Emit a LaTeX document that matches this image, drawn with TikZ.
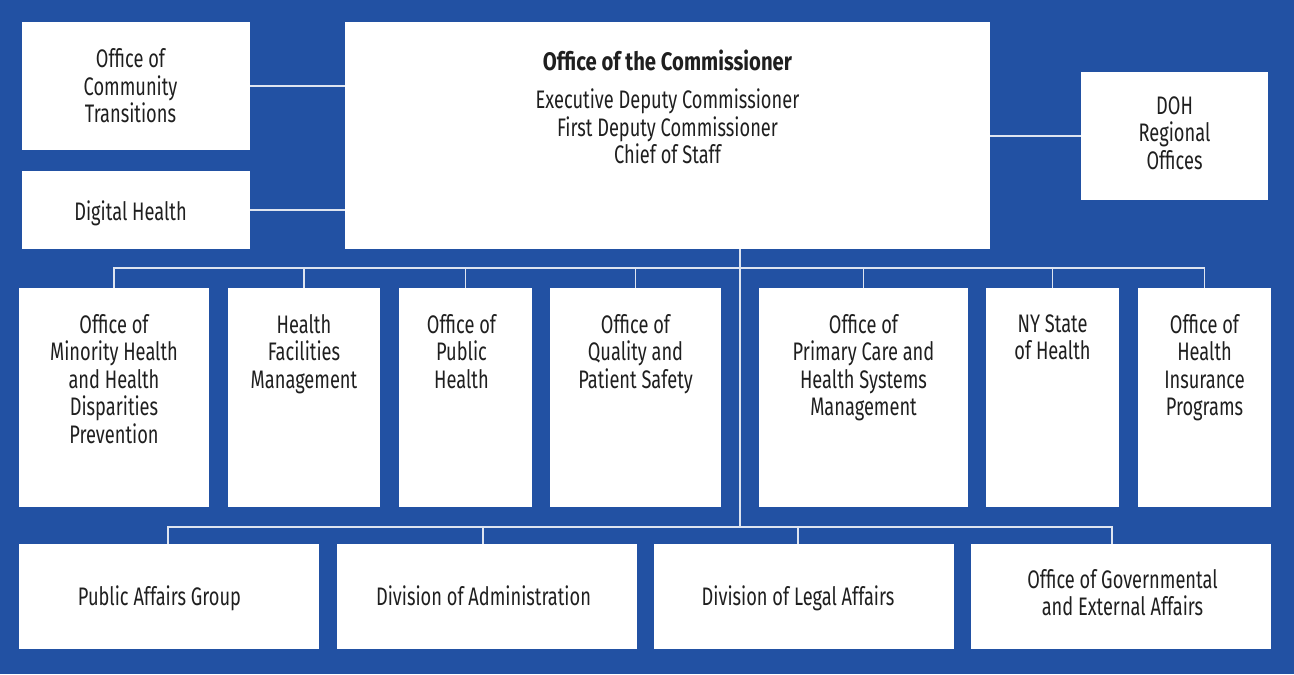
\documentclass[tikz,border=0pt]{standalone}
\usepackage{fontspec}
\setmainfont{Fira Sans}[FakeStretch=0.72, BoldFeatures={FakeStretch=0.8}]
\definecolor{dohblue}{RGB}{34,81,163}
\definecolor{wirecol}{RGB}{222,228,240}
\newcommand{\orgfont}{\fontsize{19}{20.6}\selectfont}
\begin{document}
\begin{tikzpicture}[x=0.75pt,y=-0.75pt,
  box/.style 2 args={fill=white, minimum width=#1*0.75pt, minimum height=#2*0.75pt,
    inner sep=0pt, outer sep=0pt},
  lbl/.style={inner sep=0pt, align=center, text=black!88, font=\orgfont},
  % label centred in its box, moved by (dx,dy) pixels
  midlbl/.style 2 args={lbl, anchor=center, xshift=#1*0.75pt, yshift=-#2*0.75pt},
  % label hung from the top edge of its box
  toplbl/.style 2 args={lbl, anchor=north, xshift=#1*0.75pt, yshift=-#2*0.75pt},
  oneline/.style={text height=13.5pt, text depth=0pt},
  wire/.style={draw=wirecol, line width=0.9pt}]
  % background
  \fill[dohblue] (0,0) rectangle (1294,674);
  \useasboundingbox (0,0) rectangle (1294,674);

  % top row
  \node[box={228}{128}, label={[midlbl={-5.5}{0}]center:{Office of\\Community\\Transitions}}] (oct) at (136,86) {};
  \node[box={228}{78}, label={[midlbl={-5.5}{1}, oneline]center:{Digital Health}}] (dh) at (136,210) {};
  \node[box={645}{227}, label={[toplbl={0}{28}]north:{\textbf{Office of the Commissioner}\\[8pt]
    Executive Deputy Commissioner\\First Deputy Commissioner\\Chief of Staff}}]
    (comm) at (667.5,135.5) {};
  \node[box={187}{128}, label={[midlbl={0}{-3}]center:{DOH\\Regional\\Offices}}] (doh) at (1174.5,136) {};

  % middle row
  \node[box={190}{219}, label={[toplbl={0}{26}]north:{Office of\\Minority Health\\and Health\\Disparities\\Prevention}}] (m1) at (114,397.5) {};
  \node[box={152}{219}, label={[toplbl={0}{26}]north:{Health\\Facilities\\Management}}] (m2) at (304,397.5) {};
  \node[box={133}{219}, label={[toplbl={-4}{26}]north:{Office of\\Public\\Health}}] (m3) at (465.5,397.5) {};
  \node[box={171}{219}, label={[toplbl={0}{26}]north:{Office of\\Quality and\\Patient Safety}}] (m4) at (635.5,397.5) {};
  \node[box={209}{219}, label={[toplbl={0}{26}]north:{Office of\\Primary Care and\\Health Systems\\Management}}] (m5) at (863.5,397.5) {};
  \node[box={133}{219}, label={[toplbl={0}{26}]north:{NY State\\of Health}}] (m6) at (1052.5,397.5) {};
  \node[box={133}{219}, label={[toplbl={0}{26}]north:{Office of\\Health\\Insurance\\Programs}}] (m7) at (1204.5,397.5) {};

  % bottom row
  \node[box={300}{105}, label={[midlbl={-9.5}{0}, oneline]center:{Public Affairs Group}}] (b1) at (169,596.5) {};
  \node[box={300}{105}, label={[midlbl={-3.5}{0}, oneline]center:{Division of Administration}}] (b2) at (487,596.5) {};
  \node[box={300}{105}, label={[midlbl={-6}{0}, oneline]center:{Division of Legal Affairs}}] (b3) at (804,596.5) {};
  \node[box={300}{105}, label={[midlbl={1.5}{-4}]center:{Office of Governmental\\and External Affairs}}] (b4) at (1121,596.5) {};

  % side links
  \draw[wire] (oct.east) -- (oct.east -| comm.west);
  \draw[wire] (dh.east) -- (dh.east -| comm.west);
  \draw[wire] (doh.west) -- (doh.west -| comm.east);

  % trunk and buses
  \coordinate (busA) at (740,268);
  \coordinate (busB) at (740,527);
  \draw[wire] (busA |- comm.south) -- (busB);
  \draw[wire] (m1.north) -- (m1.north |- busA) -- (m7.north |- busA) -- (m7.north);
  \foreach \m in {m2,m3,m4,m5,m6}
    \draw[wire] (\m.north) -- (\m.north |- busA);
  \draw[wire] ([xshift=-1*0.75pt]b1.north) -- ([xshift=-1*0.75pt]b1.north |- busB)
     -- ([xshift=-9*0.75pt]b4.north |- busB) -- ([xshift=-9*0.75pt]b4.north);
  \draw[wire] ([xshift=-4*0.75pt]b2.north) -- ([xshift=-4*0.75pt]b2.north |- busB);
  \draw[wire] ([xshift=-6*0.75pt]b3.north) -- ([xshift=-6*0.75pt]b3.north |- busB);
\end{tikzpicture}
\end{document}
